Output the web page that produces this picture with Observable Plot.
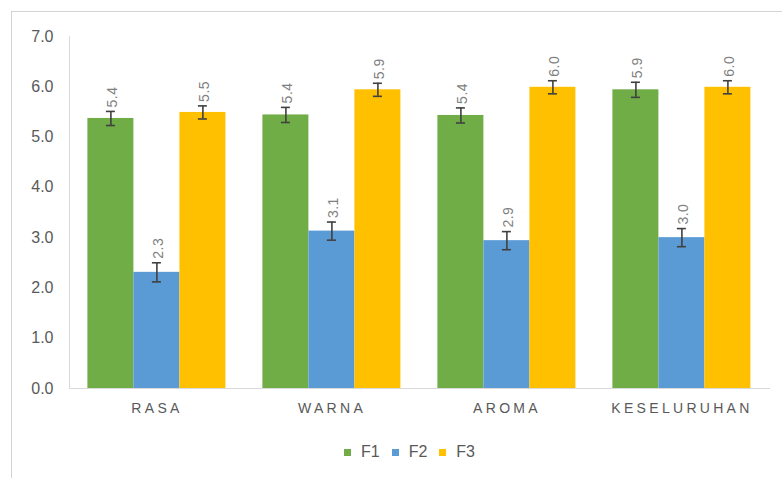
<!DOCTYPE html>
<html>
<head>
<meta charset="utf-8">
<script src="https://cdn.jsdelivr.net/npm/d3@7"></script>
<script src="https://cdn.jsdelivr.net/npm/@observablehq/plot@0.6"></script>
<style>
  body { margin: 0; background: #fff; }
  #wrap { position: relative; width: 782px; height: 478px; overflow: hidden; background: #fff; }
  #frame { position: absolute; left: 11px; top: 11px; width: 900px; height: 600px;
           border-left: 1px solid #d4d4d4; border-top: 1px solid #d4d4d4; }
  #chart { position: absolute; left: 0; top: 0; }
  #legend { position: absolute; left: 0; top: 441px; width: 782px; }
  .lg-swatches { font-family: "Liberation Sans", Arial, sans-serif !important; font-size: 16px !important; color: #595959; margin: 0 !important; }
  .lg-swatches-wrap { min-height: 22px !important; padding-left: 344px; }
  .lg-swatch { margin-right: 12px !important; }
  .lg-swatch > svg { margin-right: 10px !important; }
  g[aria-label="fx-axis tick label"] text { letter-spacing: 3.3px; }
  g[aria-label="text"] text { letter-spacing: 0.5px; }
</style>
</head>
<body>
<div id="wrap">
  <div id="frame"></div>
  <div id="chart"></div>
  <div id="legend"></div>
</div>
<script>
const categories = ["RASA", "WARNA", "AROMA", "KESELURUHAN"];
const series = ["F1", "F2", "F3"];
const colors = ["#70AD47", "#5B9BD5", "#FFC000"];
const f1 = [5.37, 5.44, 5.43, 5.94];
const f2 = [2.31, 3.13, 2.94, 3.00];
const f3 = [5.49, 5.94, 5.99, 5.99];
const err1 = [0.14, 0.15, 0.15, 0.15];
const err2 = [0.19, 0.18, 0.18, 0.18];
const err3 = [0.13, 0.13, 0.13, 0.13];
const yTicks = [0, 1, 2, 3, 4, 5, 6, 7];

const values = [f1, f2, f3];
const errs = [err1, err2, err3];
const data = categories.flatMap((c, i) => series.map((s, j) => ({
  cat: c, series: s, value: values[j][i], err: errs[j][i]
})));

const font = "'Liberation Sans', Arial, sans-serif";
const fmt = d3.format(".1f");

const chart = Plot.plot({
  width: 782,
  height: 430,
  marginTop: 36,
  marginBottom: 42,
  marginLeft: 68.6,
  marginRight: 12,
  style: { fontFamily: font, background: "transparent", overflow: "visible" },
  fx: { domain: categories, padding: 0, label: null },
  x: { domain: series, paddingInner: 0, paddingOuter: 0.37, axis: null },
  y: { domain: [0, 7], axis: null, label: null },
  color: { domain: series, range: colors },
  marks: [
    Plot.barY(data, { fx: "cat", x: "series", y: "value", fill: "series" }),
    Plot.ruleX(data, { fx: "cat", x: "series", y1: d => d.value - d.err, y2: d => d.value + d.err, stroke: "#404040", strokeWidth: 1.6 }),
    Plot.tickY(data, { fx: "cat", x: "series", y: d => d.value + d.err, stroke: "#404040", strokeWidth: 1.6, insetLeft: 18.5, insetRight: 18.5 }),
    Plot.tickY(data, { fx: "cat", x: "series", y: d => d.value - d.err, stroke: "#404040", strokeWidth: 1.6, insetLeft: 18.5, insetRight: 18.5 }),
    Plot.text(data, { fx: "cat", x: "series", y: d => d.value + d.err, text: d => fmt(d.value), rotate: -90, textAnchor: "start", dy: -4, dx: 2, fill: "#7f7f7f", fontSize: 14 }),
    Plot.frame({ anchor: "left", stroke: "#d9d9d9", facet: "super" }),
    Plot.frame({ anchor: "bottom", stroke: "#d9d9d9", facet: "super" }),
    Plot.axisY({ ticks: yTicks, tickFormat: fmt, tickSize: 0, tickPadding: 16, fontSize: 16, fill: "#595959", label: null }),
    Plot.axisFx({ anchor: "bottom", tickSize: 0, tickPadding: 15, fontSize: 14, fill: "#595959", label: null })
  ]
});
document.getElementById("chart").appendChild(chart);

const legend = Plot.legend({
  color: { type: "ordinal", domain: series, range: colors },
  swatchSize: 7,
  className: "lg"
});
document.getElementById("legend").appendChild(legend);
</script>
</body>
</html>
